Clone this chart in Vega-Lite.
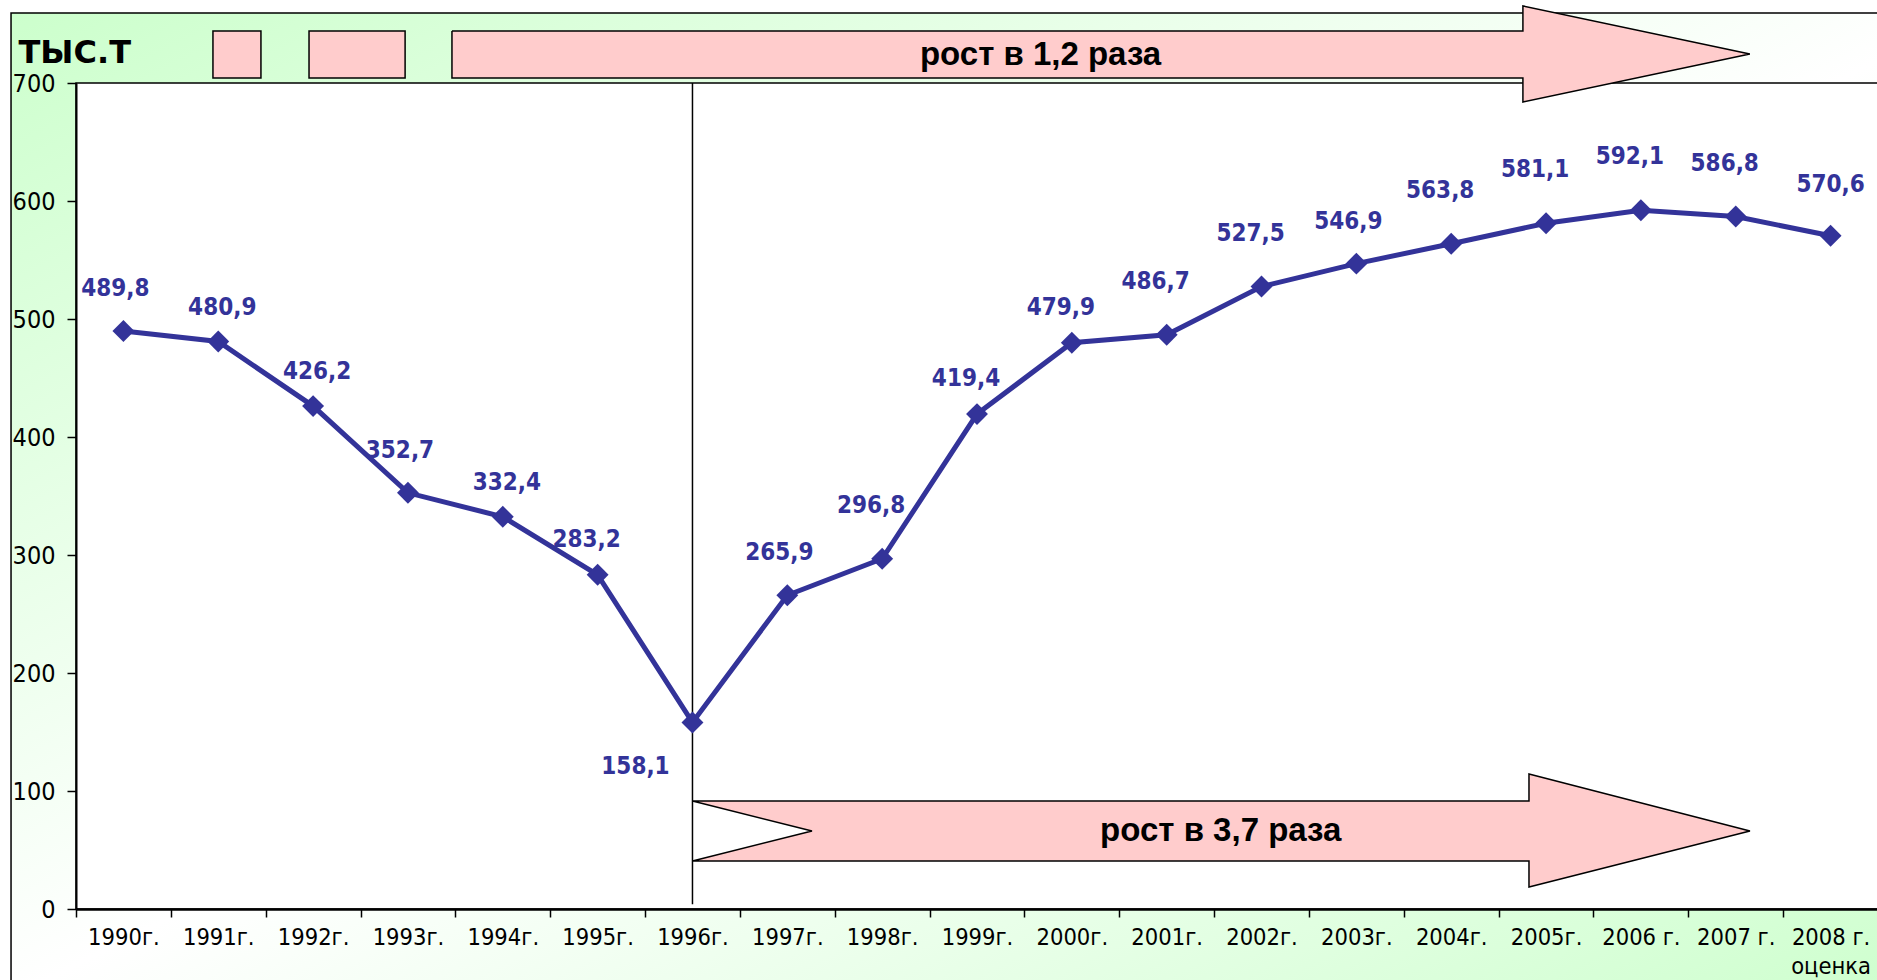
{
  "$schema": "https://vega.github.io/schema/vega-lite/v6.json",
  "width": 1802,
  "height": 826,
  "autosize": {"type": "none"},
  "padding": {"left": 76, "top": 83, "right": 0, "bottom": 71},
  "background": "white",
  "config": {"view": {"stroke": null}},
  "datasets": {
    "series": [
      {"year": 1990, "value": 489.8, "label": "489,8"},
      {"year": 1991, "value": 480.9, "label": "480,9"},
      {"year": 1992, "value": 426.2, "label": "426,2"},
      {"year": 1993, "value": 352.7, "label": "352,7"},
      {"year": 1994, "value": 332.4, "label": "332,4"},
      {"year": 1995, "value": 283.2, "label": "283,2"},
      {"year": 1996, "value": 158.1, "label": "158,1"},
      {"year": 1997, "value": 265.9, "label": "265,9"},
      {"year": 1998, "value": 296.8, "label": "296,8"},
      {"year": 1999, "value": 419.4, "label": "419,4"},
      {"year": 2000, "value": 479.9, "label": "479,9"},
      {"year": 2001, "value": 486.7, "label": "486,7"},
      {"year": 2002, "value": 527.5, "label": "527,5"},
      {"year": 2003, "value": 546.9, "label": "546,9"},
      {"year": 2004, "value": 563.8, "label": "563,8"},
      {"year": 2005, "value": 581.1, "label": "581,1"},
      {"year": 2006, "value": 592.1, "label": "592,1"},
      {"year": 2007, "value": 586.8, "label": "586,8"},
      {"year": 2008, "value": 570.6, "label": "570,6"}
    ],
    "frame": [{"x": 1988.815, "x2": 2009.5, "y": -75, "y2": 759.3}],
    "plotbox": [{"x": 1989.5, "x2": 2008.5, "y": 0, "y2": 700}],
    "boxes": [
      {"x": 1990.944, "x2": 1991.45, "y": 704.2, "y2": 744.1},
      {"x": 1991.957, "x2": 1992.97, "y": 704.2, "y2": 744.1}
    ],
    "arrows": [
      {"shape": "top", "ord": 1, "x": 1993.464, "y": 744.1},
      {"shape": "top", "ord": 2, "x": 2004.756, "y": 744.1},
      {"shape": "top", "ord": 3, "x": 2004.756, "y": 765.3},
      {"shape": "top", "ord": 4, "x": 2007.149, "y": 724.5},
      {"shape": "top", "ord": 5, "x": 2004.756, "y": 683.9},
      {"shape": "top", "ord": 6, "x": 2004.756, "y": 704.2},
      {"shape": "top", "ord": 7, "x": 1993.464, "y": 704.2},
      {"shape": "top", "ord": 8, "x": 1993.464, "y": 744.1},
      {"shape": "bottom", "ord": 1, "x": 1996.0, "y": 91.5},
      {"shape": "bottom", "ord": 2, "x": 2004.82, "y": 91.5},
      {"shape": "bottom", "ord": 3, "x": 2004.82, "y": 114.4},
      {"shape": "bottom", "ord": 4, "x": 2007.15, "y": 66.1},
      {"shape": "bottom", "ord": 5, "x": 2004.82, "y": 18.6},
      {"shape": "bottom", "ord": 6, "x": 2004.82, "y": 40.7},
      {"shape": "bottom", "ord": 7, "x": 1996.0, "y": 40.7},
      {"shape": "bottom", "ord": 8, "x": 1997.26, "y": 66.1},
      {"shape": "bottom", "ord": 9, "x": 1996.0, "y": 91.5}
    ],
    "divider": [{"x": 1996, "y": 4, "y2": 700}],
    "notes": [
      {"x": 1999.67, "y": 724, "text": "рост в 1,2 раза"},
      {"x": 2001.57, "y": 66.1, "text": "рост в 3,7 раза"}
    ]
  },
  "layer": [
    {
      "data": {"name": "frame"},
      "mark": {
        "type": "rect",
        "fill": {"gradient": "linear", "x1": 0, "y1": 0, "x2": 1, "y2": 1,
          "stops": [{"offset": 0, "color": "#ccffcc"}, {"offset": 0.5, "color": "#ffffff"}, {"offset": 1, "color": "#ccffcc"}]},
        "stroke": "black",
        "strokeWidth": 1.5
      },
      "encoding": {
        "x": {"field": "x", "type": "quantitative", "scale": {"domain": [1989.5, 2008.5], "nice": false, "zero": false}, "title": null},
        "x2": {"field": "x2"},
        "y": {"field": "y", "type": "quantitative", "scale": {"domain": [0, 700], "nice": false, "zero": false}, "title": "ТЫС.Т"},
        "y2": {"field": "y2"}
      }
    },
    {
      "data": {"name": "plotbox"},
      "mark": {"type": "rect", "fill": "white", "stroke": "black", "strokeWidth": 1.5},
      "encoding": {
        "x": {"field": "x", "type": "quantitative", "title": null},
        "x2": {"field": "x2"},
        "y": {"field": "y", "type": "quantitative", "title": "ТЫС.Т"},
        "y2": {"field": "y2"}
      }
    },
    {
      "data": {"name": "boxes"},
      "mark": {"type": "rect", "fill": "#ffcccc", "stroke": "black", "strokeWidth": 1.5},
      "encoding": {
        "x": {"field": "x", "type": "quantitative", "title": null},
        "x2": {"field": "x2"},
        "y": {"field": "y", "type": "quantitative", "title": "ТЫС.Т"},
        "y2": {"field": "y2"}
      }
    },
    {
      "data": {"name": "arrows"},
      "mark": {"type": "line", "fill": "#ffcccc", "stroke": "black", "strokeWidth": 1.5, "strokeJoin": "miter"},
      "encoding": {
        "x": {"field": "x", "type": "quantitative", "title": null},
        "y": {"field": "y", "type": "quantitative", "title": "ТЫС.Т"},
        "detail": {"field": "shape"},
        "order": {"field": "ord", "type": "quantitative"}
      }
    },
    {
      "data": {"name": "divider"},
      "mark": {"type": "rule", "color": "black", "strokeWidth": 1.5},
      "encoding": {
        "x": {"field": "x", "type": "quantitative", "title": null},
        "y": {"field": "y", "type": "quantitative", "title": "ТЫС.Т"},
        "y2": {"field": "y2"}
      }
    },
    {
      "data": {"name": "series"},
      "mark": {"type": "line", "color": "#333399", "strokeWidth": 5},
      "encoding": {
        "x": {
          "field": "year", "type": "quantitative", "title": null,
          "axis": {
            "values": [1990, 1991, 1992, 1993, 1994, 1995, 1996, 1997, 1998, 1999, 2000, 2001, 2002, 2003, 2004, 2005, 2006, 2007, 2008],
            "tickOffset": -47.43, "labelOffset": 47.43,
            "labelExpr": "datum.value == 2008 ? ['2008 г.', 'оценка'] : (datum.value >= 2006 ? datum.value + ' г.' : datum.value + 'г.')",
            "labelFont": "'DejaVu Sans Condensed', 'DejaVu Sans'", "labelFontSize": 23.5, "labelColor": "black",
            "labelBaseline": "top", "labelLineHeight": 29, "labelPadding": 8,
            "labelOverlap": false, "labelFlush": false, "labelBound": false,
            "domainColor": "black", "domainWidth": 2.5, "tickColor": "black", "tickWidth": 1.5, "tickSize": 8,
            "grid": false, "zindex": 1
          }
        },
        "y": {
          "field": "value", "type": "quantitative", "title": "ТЫС.Т",
          "axis": {
            "values": [0, 100, 200, 300, 400, 500, 600, 700],
            "labelFont": "'DejaVu Sans Condensed', 'DejaVu Sans'", "labelFontSize": 25, "labelColor": "black", "labelPadding": 12,
            "domainColor": "black", "domainWidth": 2, "tickColor": "black", "tickWidth": 1.5, "tickSize": 9,
            "grid": false, "zindex": 1,
            "titleAngle": 0, "titleAlign": "left", "titleBaseline": "middle", "titleX": -58, "titleY": -31,
            "titleFont": "DejaVu Sans", "titleFontSize": 32, "titleFontWeight": "bold", "titleColor": "black"
          }
        }
      }
    },
    {
      "data": {"name": "series"},
      "mark": {"type": "point", "shape": "diamond", "filled": true, "color": "#333399", "size": 480, "opacity": 1},
      "encoding": {
        "x": {"field": "year", "type": "quantitative", "title": null},
        "y": {"field": "value", "type": "quantitative", "title": "ТЫС.Т"}
      }
    },
    {
      "data": {"name": "series"},
      "transform": [{"filter": {"field": "year", "oneOf": [1991, 1992, 1994]}}],
      "mark": {"type": "text", "font": "'DejaVu Sans Condensed', 'DejaVu Sans'", "fontWeight": "bold", "fontSize": 24, "color": "#333399", "dx": 4, "dy": -34},
      "encoding": {"x": {"field": "year", "type": "quantitative", "title": null}, "y": {"field": "value", "type": "quantitative", "title": "ТЫС.Т"}, "text": {"field": "label"}}
    },
    {
      "data": {"name": "series"},
      "transform": [{"filter": {"field": "year", "oneOf": [1995, 1999, 2000]}}],
      "mark": {"type": "text", "font": "'DejaVu Sans Condensed', 'DejaVu Sans'", "fontWeight": "bold", "fontSize": 24, "color": "#333399", "dx": -11, "dy": -35},
      "encoding": {"x": {"field": "year", "type": "quantitative", "title": null}, "y": {"field": "value", "type": "quantitative", "title": "ТЫС.Т"}, "text": {"field": "label"}}
    },
    {
      "data": {"name": "series"},
      "transform": [{"filter": {"field": "year", "oneOf": [1990, 1993, 1997, 2003]}}],
      "mark": {"type": "text", "font": "'DejaVu Sans Condensed', 'DejaVu Sans'", "fontWeight": "bold", "fontSize": 24, "color": "#333399", "dx": -8, "dy": -42},
      "encoding": {"x": {"field": "year", "type": "quantitative", "title": null}, "y": {"field": "value", "type": "quantitative", "title": "ТЫС.Т"}, "text": {"field": "label"}}
    },
    {
      "data": {"name": "series"},
      "transform": [{"filter": {"field": "year", "oneOf": [1998, 2001, 2002, 2004, 2005, 2006, 2007]}}],
      "mark": {"type": "text", "font": "'DejaVu Sans Condensed', 'DejaVu Sans'", "fontWeight": "bold", "fontSize": 24, "color": "#333399", "dx": -11, "dy": -53},
      "encoding": {"x": {"field": "year", "type": "quantitative", "title": null}, "y": {"field": "value", "type": "quantitative", "title": "ТЫС.Т"}, "text": {"field": "label"}}
    },
    {
      "data": {"name": "series"},
      "transform": [{"filter": {"field": "year", "oneOf": [2008]}}],
      "mark": {"type": "text", "font": "'DejaVu Sans Condensed', 'DejaVu Sans'", "fontWeight": "bold", "fontSize": 24, "color": "#333399", "dx": 0, "dy": -51},
      "encoding": {"x": {"field": "year", "type": "quantitative", "title": null}, "y": {"field": "value", "type": "quantitative", "title": "ТЫС.Т"}, "text": {"field": "label"}}
    },
    {
      "data": {"name": "series"},
      "transform": [{"filter": {"field": "year", "oneOf": [1996]}}],
      "mark": {"type": "text", "font": "'DejaVu Sans Condensed', 'DejaVu Sans'", "fontWeight": "bold", "fontSize": 24, "color": "#333399", "dx": -57, "dy": 45},
      "encoding": {"x": {"field": "year", "type": "quantitative", "title": null}, "y": {"field": "value", "type": "quantitative", "title": "ТЫС.Т"}, "text": {"field": "label"}}
    },
    {
      "data": {"name": "notes"},
      "mark": {"type": "text", "font": "'Liberation Sans Narrow', 'Liberation Sans'", "fontWeight": "bold", "fontSize": 33, "color": "black"},
      "encoding": {"x": {"field": "x", "type": "quantitative", "title": null}, "y": {"field": "y", "type": "quantitative", "title": "ТЫС.Т"}, "text": {"field": "text"}}
    }
  ]
}
